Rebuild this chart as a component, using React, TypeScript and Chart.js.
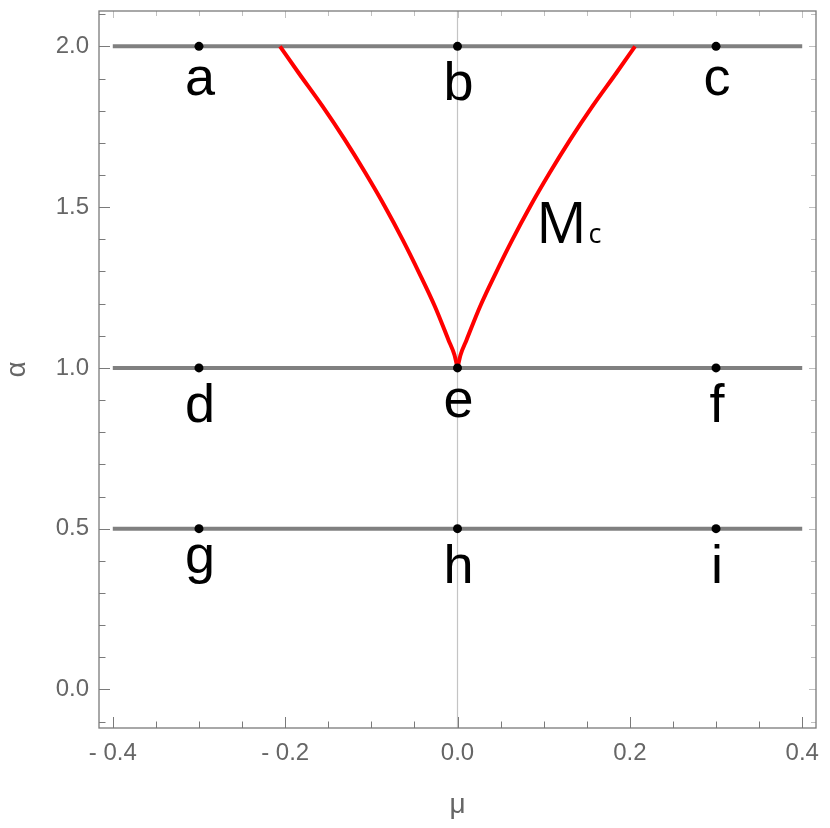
import React, { useEffect, useRef } from "react";
import { Chart, registerables } from "chart.js";

Chart.register(...registerables);

// Axis ranges
const xRange = [-0.416, 0.416];
const yRange = [-0.12, 2.11];

// Ticks
const xMajorTicks = [-0.4, -0.2, 0, 0.2, 0.4];
const xMinorTicks = [-0.35, -0.3, -0.25, -0.15, -0.1, -0.05, 0.05, 0.1, 0.15, 0.25, 0.3, 0.35];
const yMajorTicks = [0, 0.5, 1, 1.5, 2];
const yMinorTicks = [-0.1, 0.1, 0.2, 0.3, 0.4, 0.6, 0.7, 0.8, 0.9, 1.1, 1.2, 1.3, 1.4, 1.6, 1.7, 1.8, 1.9, 2.1];

// Horizontal gray lines (alpha levels) spanning mu range
const lineAlphas = [2.0, 1.0, 0.5];
const lineMu = [-0.4, 0.4];

// Red critical curve Mc, left branch ordered by increasing mu
const curveAlphaLeft = [2.0, 1.918, 1.814, 1.71, 1.606, 1.502, 1.399, 1.295, 1.191, 1.087, 1.04, 1.0];
const curveMuLeft = [-0.206, -0.1845, -0.1567, -0.1308, -0.1068, -0.0843, -0.0637, -0.0444, -0.0262, -0.0105, -0.0035, 0];
// right branch ordered by increasing mu
const curveAlphaRight = [1.0, 1.04, 1.087, 1.191, 1.295, 1.399, 1.502, 1.606, 1.71, 1.814, 1.918, 2.0];
const curveMuRight = [0, 0.0035, 0.0105, 0.0262, 0.0444, 0.0637, 0.0843, 0.1068, 0.1308, 0.1567, 0.1845, 0.206];

// Labelled points
const pointLabels = ["a", "b", "c", "d", "e", "f", "g", "h", "i"];
const pointMu = [-0.3, 0, 0.3, -0.3, 0, 0.3, -0.3, 0, 0.3];
const pointAlpha = [2, 2, 2, 1, 1, 1, 0.5, 0.5, 0.5];

// Curve label
const curveLabelMain = "M";
const curveLabelSub = "c";
const curveLabelMu = 0.096;
const curveLabelAlpha = 1.389;

const fmtTick = (v: number) => (v < 0 ? "- " + Math.abs(v).toFixed(1) : v.toFixed(1));

const framePlugin = {
  id: "framePlugin",
  beforeDatasetsDraw(chart: any) {
    const { ctx, chartArea: a, scales } = chart;
    const xs = scales.x;
    const ys = scales.y;
    ctx.save();
    // vertical axis at mu = 0
    const x0 = xs.getPixelForValue(0);
    ctx.strokeStyle = "#c4c4c4";
    ctx.lineWidth = 1.2;
    ctx.beginPath();
    ctx.moveTo(x0, a.top);
    ctx.lineTo(x0, a.bottom);
    ctx.stroke();

    const tick = (color: string, fn: () => void) => {
      ctx.strokeStyle = color;
      ctx.lineWidth = 1;
      ctx.beginPath();
      fn();
      ctx.stroke();
    };
    // bottom & left ticks
    tick("#7a7a7a", () => {
      xMajorTicks.forEach((v) => {
        const p = Math.round(xs.getPixelForValue(v)) + 0.5;
        ctx.moveTo(p, a.bottom);
        ctx.lineTo(p, a.bottom - 11);
      });
      xMinorTicks.forEach((v) => {
        const p = Math.round(xs.getPixelForValue(v)) + 0.5;
        ctx.moveTo(p, a.bottom);
        ctx.lineTo(p, a.bottom - 6.5);
      });
      yMajorTicks.forEach((v) => {
        const p = Math.round(ys.getPixelForValue(v)) + 0.5;
        ctx.moveTo(a.left, p);
        ctx.lineTo(a.left + 11, p);
      });
      yMinorTicks.forEach((v) => {
        const p = Math.round(ys.getPixelForValue(v)) + 0.5;
        ctx.moveTo(a.left, p);
        ctx.lineTo(a.left + 6.5, p);
      });
    });
    // top & right ticks
    tick("#c0c0c0", () => {
      xMajorTicks.forEach((v) => {
        const p = Math.round(xs.getPixelForValue(v)) + 0.5;
        ctx.moveTo(p, a.top);
        ctx.lineTo(p, a.top + 7);
      });
      xMinorTicks.forEach((v) => {
        const p = Math.round(xs.getPixelForValue(v)) + 0.5;
        ctx.moveTo(p, a.top);
        ctx.lineTo(p, a.top + 5);
      });
      yMajorTicks.forEach((v) => {
        const p = Math.round(ys.getPixelForValue(v)) + 0.5;
        ctx.moveTo(a.right, p);
        ctx.lineTo(a.right - 7, p);
      });
      yMinorTicks.forEach((v) => {
        const p = Math.round(ys.getPixelForValue(v)) + 0.5;
        ctx.moveTo(a.right, p);
        ctx.lineTo(a.right - 5, p);
      });
    });
    // frame
    ctx.strokeStyle = "#7a7a7a";
    ctx.lineWidth = 1.3;
    ctx.strokeRect(a.left, a.top, a.right - a.left, a.bottom - a.top);
    ctx.restore();
  },
  afterDatasetsDraw(chart: any) {
    const { ctx, scales } = chart;
    const xs = scales.x;
    const ys = scales.y;
    ctx.save();
    ctx.fillStyle = "#000";
    ctx.font = '54px "Liberation Sans", Arial, sans-serif';
    ctx.textAlign = "center";
    ctx.textBaseline = "alphabetic";
    pointLabels.forEach((t, i) => {
      const px = xs.getPixelForValue(pointMu[i]);
      const py = ys.getPixelForValue(pointAlpha[i]) + 35;
      const m = ctx.measureText(t);
      const asc = m.actualBoundingBoxAscent;
      const desc = m.actualBoundingBoxDescent;
      ctx.fillText(t, px + 1, py + (asc - desc) / 2);
    });
    // Mc label
    ctx.textAlign = "left";
    const lx = xs.getPixelForValue(curveLabelMu) - 4;
    const ly = ys.getPixelForValue(curveLabelAlpha);
    ctx.font = '56px "Open Sans", "DejaVu Sans", sans-serif';
    ctx.fillText(curveLabelMain, lx, ly);
    const w = ctx.measureText(curveLabelMain).width;
    ctx.font = '27px "Open Sans", "DejaVu Sans", sans-serif';
    ctx.fillText(curveLabelSub, lx + w + 2, ly);
    ctx.restore();
  },
};

export default function App() {
  const ref = useRef<HTMLCanvasElement | null>(null);
  useEffect(() => {
    if (!ref.current) return;
    const grayDatasets = lineAlphas.map((al) => ({
      data: lineMu.map((m) => ({ x: m, y: al })),
      showLine: true,
      borderColor: "#808080",
      borderWidth: 4,
      pointRadius: 0,
      order: 4,
    }));
    const red = {
      showLine: true,
      borderColor: "#ff0000",
      borderWidth: 4,
      pointRadius: 0,
      cubicInterpolationMode: "monotone",
      order: 3,
    };
    const chart = new Chart(ref.current, {
      type: "scatter",
      data: {
        datasets: [
          ...grayDatasets,
          { ...red, data: curveAlphaLeft.map((al, i) => ({ x: curveMuLeft[i], y: al })) },
          { ...red, data: curveAlphaRight.map((al, i) => ({ x: curveMuRight[i], y: al })) },
          {
            data: pointMu.map((m, i) => ({ x: m, y: pointAlpha[i] })),
            showLine: false,
            pointRadius: 4.5,
            pointBackgroundColor: "#000",
            pointBorderWidth: 0,
            borderColor: "#000",
            order: 1,
          },
        ] as any,
      },
      options: {
        animation: false,
        responsive: false,
        events: [],
        layout: { padding: { left: 0, top: 11, right: 14, bottom: 0 } },
        plugins: { legend: { display: false }, tooltip: { enabled: false } },
        scales: {
          x: {
            type: "linear",
            min: xRange[0],
            max: xRange[1],
            grid: { display: false, drawTicks: false },
            border: { display: false },
            afterBuildTicks: (s: any) => {
              s.ticks = xMajorTicks.map((v) => ({ value: v }));
            },
            afterFit: (s: any) => {
              s.height = 100;
              s.paddingLeft = 0;
              s.paddingRight = 0;
              s.paddingTop = 0;
              s.paddingBottom = 0;
            },
            ticks: {
              padding: 11,
              color: "#666666",
              font: { family: '"Liberation Sans", Arial, sans-serif', size: 24 },
              maxRotation: 0,
              autoSkip: false,
              callback: (v: any) => fmtTick(Number(v)),
            },
            title: {
              display: true,
              text: "μ",
              color: "#666666",
              font: { family: '"Liberation Sans", Arial, sans-serif', size: 28 },
              padding: { top: 4, bottom: 6 },
            },
          },
          y: {
            type: "linear",
            min: yRange[0],
            max: yRange[1],
            grid: { display: false, drawTicks: false },
            border: { display: false },
            afterBuildTicks: (s: any) => {
              s.ticks = yMajorTicks.map((v) => ({ value: v }));
            },
            afterFit: (s: any) => {
              s.width = 99;
              s.paddingLeft = 0;
              s.paddingRight = 0;
              s.paddingTop = 0;
              s.paddingBottom = 0;
            },
            ticks: {
              padding: 10,
              color: "#666666",
              font: { family: '"Liberation Sans", Arial, sans-serif', size: 24 },
              autoSkip: false,
              callback: (v: any) => fmtTick(Number(v)),
            },
            title: {
              display: true,
              text: "α",
              color: "#666666",
              font: { family: '"Liberation Sans", Arial, sans-serif', size: 28 },
              padding: { top: 0, bottom: 0 },
            },
          },
        },
      },
      plugins: [framePlugin],
    });
    return () => chart.destroy();
  }, []);
  return (
    <div style={{ position: "absolute", left: 0, top: 0, width: 830, height: 828, background: "#fff" }}>
      <canvas ref={ref} width={830} height={828} style={{ width: 830, height: 828 }} />
    </div>
  );
}
